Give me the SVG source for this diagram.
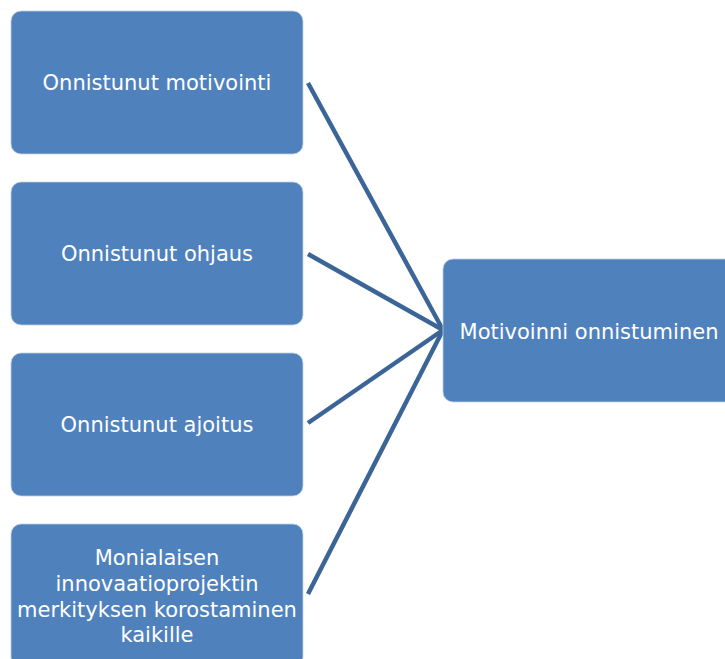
<svg xmlns="http://www.w3.org/2000/svg" width="725" height="659" viewBox="0 0 725 659">
<style>
.box{fill:#4F81BD;stroke:#BFD0E6;stroke-width:0.8}
.t{font-family:"DejaVu Sans","Liberation Sans",sans-serif;font-size:21px;fill:#fff;text-anchor:middle}
.c{stroke:#3C6597;stroke-width:4.5;fill:none}
</style>
<rect width="725" height="659" fill="#fff"/>
<g id="connectors">
<line class="c" x1="308" y1="83" x2="443" y2="330"/>
<line class="c" x1="308" y1="254" x2="443" y2="330"/>
<line class="c" x1="308" y1="423" x2="443" y2="330"/>
<line class="c" x1="308" y1="594" x2="443" y2="330"/>
</g>
<g id="n1"><rect class="box" x="11" y="11" width="292" height="143" rx="10"/><text class="t" x="157" y="89.5">Onnistunut motivointi</text></g>
<g id="n2"><rect class="box" x="11" y="182" width="292" height="143" rx="10"/><text class="t" x="157" y="260.5">Onnistunut ohjaus</text></g>
<g id="n3"><rect class="box" x="11" y="353" width="292" height="143" rx="10"/><text class="t" x="157" y="431.5">Onnistunut ajoitus</text></g>
<g id="n4"><rect class="box" x="11" y="524" width="292" height="143" rx="10"/><text class="t" x="157" y="564.5">Monialaisen</text><text class="t" x="157" y="590.5">innovaatioprojektin</text><text class="t" x="157" y="616.5">merkityksen korostaminen</text><text class="t" x="157" y="642">kaikille</text></g>
<g id="n5"><rect class="box" x="443" y="259" width="292" height="143" rx="10"/><text class="t" x="589" y="339">Motivoinni onnistuminen</text></g>
</svg>
